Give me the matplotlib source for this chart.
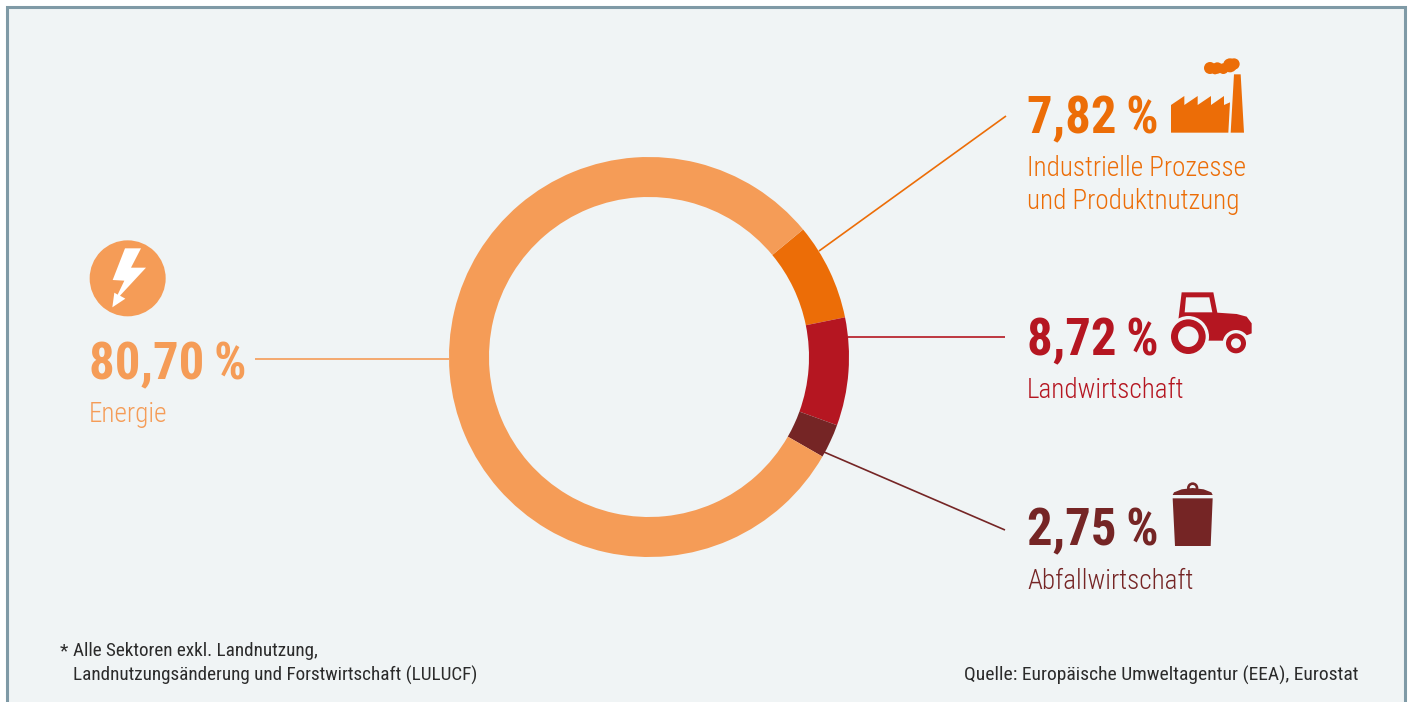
import matplotlib
matplotlib.use("Agg")
import matplotlib.pyplot as plt
import matplotlib.patches as patches

plt.rcParams["font.family"] = ["Roboto Condensed", "Roboto", "DejaVu Sans"]

sectors = ["Industrielle Prozesse\nund Produktnutzung", "Landwirtschaft", "Abfallwirtschaft", "Energie"]
shares = [7.82, 8.72, 2.75, 80.70]
share_labels = ["7,82\u2009%", "8,72\u2009%", "2,75\u2009%", "80,70\u2009%"]
sector_colors = ["#EC6D07", "#B51621", "#752525", "#F59C57"]

BG = "#F0F4F5"
FRAME = "#7F9AA6"
W, H = 1411, 702


def poly(ax, points, color, ox=0, oy=0, zorder=3):
    # icon outlines are noted at 3x scale, ox/oy is the icon origin
    pts = [(ox + x / 3, oy + y / 3) for x, y in points]
    ax.add_patch(patches.Polygon(pts, closed=True, facecolor=color, edgecolor="none", zorder=zorder))


def disc(ax, x, y, r, color, ox=0, oy=0, zorder=3):
    ax.add_patch(patches.Circle((ox + x / 3, oy + y / 3), r / 3, facecolor=color, edgecolor="none", zorder=zorder))


def factory(ax, color):
    ox, oy = 1010, 40
    poly(ax, [(483, 195), (523, 168), (523, 195), (563, 168), (563, 195), (603, 168), (603, 195),
              (642, 168), (642, 195), (660, 187), (655, 278), (483, 278)], color, ox, oy)
    poly(ax, [(672, 103), (692, 103), (702, 278), (662, 278)], color, ox, oy)
    for x, y, r in [(600, 84, 18), (622, 84, 17), (640, 86, 16), (660, 76, 21), (672, 72, 17), (615, 91, 12)]:
        disc(ax, x, y, r, color, ox, oy)


def tractor(ax, color):
    ox, oy = 1010, 280
    poly(ax, [(505, 120), (515, 37), (610, 37), (622, 98), (680, 102), (710, 110), (725, 130), (725, 160),
              (700, 170), (640, 182), (585, 182), (560, 150)], color, ox, oy)
    poly(ax, [(528, 52), (598, 52), (607, 97), (524, 97)], BG, ox, oy, zorder=4)
    disc(ax, 535, 170, 62, BG, ox, oy, zorder=4)
    disc(ax, 535, 170, 52, color, ox, oy, zorder=5)
    disc(ax, 535, 170, 31, BG, ox, oy, zorder=6)
    disc(ax, 678, 190, 40, BG, ox, oy, zorder=4)
    disc(ax, 678, 190, 30, color, ox, oy, zorder=5)
    disc(ax, 678, 190, 15, BG, ox, oy, zorder=6)


def waste_bin(ax, color):
    ox, oy = 1010, 470
    disc(ax, 548, 54, 17, color, ox, oy)
    disc(ax, 548, 54, 9, BG, ox, oy, zorder=4)
    poly(ax, [(488, 75), (492, 67), (515, 58), (548, 54), (581, 58), (604, 67), (608, 75)], color, ox, oy, zorder=5)
    poly(ax, [(488, 85), (608, 85), (602, 228), (495, 228)], color, ox, oy)


def bolt(ax, color):
    ox, oy = 70, 230
    disc(ax, 173, 145, 114, color, ox, oy)
    poly(ax, [(165, 55), (213, 55), (183, 113), (228, 113), (150, 197), (166, 206), (127, 232), (133, 188),
              (143, 194), (163, 152), (128, 150)], "white", ox, oy, zorder=4)


fig = plt.figure(figsize=(W / 100, H / 100), dpi=100, facecolor="white")
ax = fig.add_axes([0, 0, 1, 1])
ax.set_xlim(0, W)
ax.set_ylim(H, 0)
ax.axis("off")

# panel with an open bottom edge
ax.add_patch(patches.Rectangle((6.5, 6.7), 1398, 710, facecolor=BG, edgecolor=FRAME, linewidth=2.2, zorder=0))

# donut
cx, cy, r_out = 649, 357, 200
pie_ax = fig.add_axes([(cx - r_out) / W, 1 - (cy + r_out) / H, 2 * r_out / W, 2 * r_out / H])
pie_ax.pie(shares, colors=sector_colors, startangle=39.6, counterclock=False, radius=1,
           wedgeprops=dict(width=0.2, edgecolor="none", linewidth=0))
pie_ax.set_xlim(-1, 1)
pie_ax.set_ylim(-1, 1)
pie_ax.patch.set_alpha(0)

# leader lines
leaders = [((819, 251), (1006, 116)), ((848, 337), (1005, 337)), ((824, 452), (1005, 530)), ((255, 359), (449, 359))]
for (p0, p1), c in zip(leaders, sector_colors):
    ax.plot([p0[0], p1[0]], [p0[1], p1[1]], color=c, lw=1.2, solid_capstyle="butt", zorder=2)

# value and sector labels
num_pos = [(1027, 133), (1027, 355), (1027, 545), (89, 379)]
name_pos = [(1027, 176), (1027, 398), (1027, 589), (89, 422)]
for i in range(4):
    ax.text(num_pos[i][0], num_pos[i][1], share_labels[i], color=sector_colors[i], fontsize=36.5,
            fontweight="bold", va="baseline", ha="left")
    for j, line in enumerate(sectors[i].split("\n")):
        ax.text(name_pos[i][0], name_pos[i][1] + j * 33, line, color=sector_colors[i], fontsize=19.5,
                fontweight="light", va="baseline", ha="left")

factory(ax, sector_colors[0])
tractor(ax, sector_colors[1])
waste_bin(ax, sector_colors[2])
bolt(ax, sector_colors[3])

# footnotes
note_color = "#2B2B2B"
ax.text(60, 656, "*", color=note_color, fontsize=13.75, va="baseline")
ax.text(73, 656, "Alle Sektoren exkl. Landnutzung,", color=note_color, fontsize=13.75, va="baseline")
ax.text(73, 681, "Landnutzungsänderung und Forstwirtschaft (LULUCF)", color=note_color, fontsize=13.75, va="baseline")
ax.text(1359, 681, "Quelle: Europäische Umweltagentur (EEA), Eurostat", color=note_color, fontsize=14,
        va="baseline", ha="right")

fig.savefig("out.png", dpi=100, facecolor="white")
